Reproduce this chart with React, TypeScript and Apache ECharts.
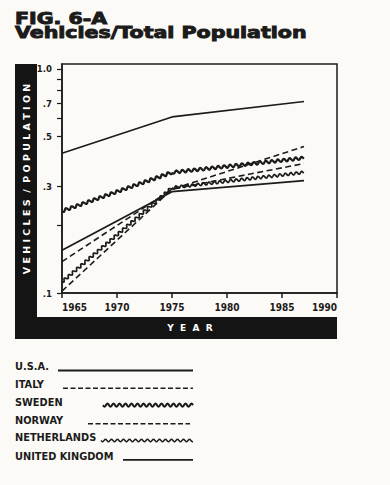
import React, { useEffect, useRef } from "react";
import * as echarts from "echarts";

const years = [1965, 1975, 1987];
const usa = [0.42, 0.61, 0.715];
const italy = [0.102, 0.29, 0.45];
const sweden = [0.232, 0.345, 0.4];
const norway = [0.138, 0.29, 0.378];
const netherlands = [0.112, 0.295, 0.345];
const uk = [0.155, 0.283, 0.317];

const yTickValues = [0.1, 0.2, 0.3, 0.5, 0.6, 0.7, 0.8, 0.9, 1.0];
const yLabelValues = [0.1, 0.3, 0.5, 0.7, 1.0];
const legendNames = ["U.S.A.", "ITALY", "SWEDEN", "NORWAY", "NETHERLANDS", "UNITED KINGDOM"];

const INK = "#1b1b1b";
const BG = "#fbfaf6";

function pairs(vals: number[]) {
  return years.map((y, i) => [y, vals[i]]);
}

function wavePoints(x0: number, y0: number, x1: number, y1: number, amp: number, wl: number) {
  const dx = x1 - x0, dy = y1 - y0;
  const L = Math.sqrt(dx * dx + dy * dy);
  const ux = dx / L, uy = dy / L;
  const nx = -uy, ny = ux;
  const pts: number[][] = [];
  const step = 0.5;
  for (let s = 0; s <= L; s += step) {
    const o = amp * Math.sin((2 * Math.PI * s) / wl);
    pts.push([x0 + ux * s + nx * o, y0 + uy * s + ny * o]);
  }
  return pts;
}

function wavySeries(name: string, vals: number[], width: number, amp: number, wl: number) {
  return {
    type: "custom",
    name,
    data: pairs(vals),
    encode: { x: 0, y: 1 },
    clip: true,
    renderItem: (params: any, api: any) => {
      const i = params.dataIndexInside;
      if (i === 0) return { type: "group", children: [] };
      const p0 = api.coord([api.value(0, i - 1), api.value(1, i - 1)]);
      const p1 = api.coord([api.value(0, i), api.value(1, i)]);
      return {
        type: "polyline",
        shape: { points: wavePoints(p0[0], p0[1], p1[0], p1[1], amp, wl) },
        style: { stroke: INK, lineWidth: width, fill: null },
      };
    },
  };
}

function lineSeries(name: string, vals: number[], width: number, type: any) {
  return {
    type: "line",
    name,
    data: pairs(vals),
    symbol: "none",
    lineStyle: { color: INK, width, type },
  };
}

export default function App() {
  const ref = useRef<HTMLDivElement>(null);
  useEffect(() => {
    if (!ref.current) return;
    const chart = echarts.init(ref.current, null, { renderer: "svg" });

    const rowY = [366.7, 384.5, 402.3, 420, 437.7, 456];
    const lineStart = [58, 63, 103, 88, 101, 123];
    const lineEnd = [193, 193, 193, 190, 193, 193];
    const legendGraphics: any[] = [];
    legendNames.forEach((n, i) => {
      legendGraphics.push({
        type: "text",
        x: 15,
        y: rowY[i],
        style: {
          text: n,
          font: "bold 9.8px 'DejaVu Sans'",
          fill: INK,
          align: "left",
          verticalAlign: "middle",
          textAlign: "left",
          textVerticalAlign: "middle",
        },
      });
      const ly = rowY[i] + 3.8;
      if (i === 0 || i === 5) {
        legendGraphics.push({
          type: "line",
          shape: { x1: lineStart[i], y1: ly, x2: lineEnd[i], y2: ly },
          style: { stroke: INK, lineWidth: 1.8 },
        });
      } else if (i === 1 || i === 3) {
        legendGraphics.push({
          type: "line",
          shape: { x1: lineStart[i], y1: ly, x2: lineEnd[i], y2: ly },
          style: { stroke: INK, lineWidth: 1.6, lineDash: [5, 2.5] },
        });
      } else {
        legendGraphics.push({
          type: "polyline",
          shape: { points: wavePoints(lineStart[i], ly - 1, lineEnd[i], ly - 1, i === 2 ? 1.5 : 1.2, 6) },
          style: { stroke: INK, lineWidth: i === 2 ? 2 : 1.5, fill: null },
        });
      }
    });

    const titleStyle = {
      font: "bold 15px 'DejaVu Sans'",
      fill: INK,
      stroke: INK,
      lineWidth: 0.9,
      align: "left",
      verticalAlign: "top",
      textAlign: "left",
      textVerticalAlign: "top",
    };

    const option: any = {
      animation: false,
      backgroundColor: BG,
      grid: {
        left: 62,
        right: 53,
        top: 64,
        bottom: 192,
        show: true,
        borderColor: INK,
        borderWidth: 1.5,
        backgroundColor: "transparent",
      },
      xAxis: {
        type: "value",
        min: 1965,
        max: 1990,
        interval: 5,
        axisLine: { show: true, lineStyle: { color: INK, width: 1.5 } },
        axisTick: { show: true, inside: false, length: 5, lineStyle: { color: INK, width: 1.5 } },
        splitLine: { show: false },
        axisLabel: {
          color: INK,
          fontWeight: "bold",
          fontSize: 10,
          fontFamily: "'Liberation Sans Narrow', 'DejaVu Sans Condensed', sans-serif",
          margin: 9,
          alignMinLabel: "left",
          alignMaxLabel: "right",
          formatter: (v: number) => String(Math.round(v)),
        },
      },
      yAxis: {
        type: "log",
        logBase: 10,
        min: 0.1,
        max: 1.05,
        axisLine: { show: true, lineStyle: { color: INK, width: 1.5 } },
        axisTick: { show: true, length: 5, customValues: yTickValues, lineStyle: { color: INK, width: 1.2 } },
        splitLine: { show: false },
        minorTick: { show: false },
        axisLabel: {
          customValues: yLabelValues,
          color: INK,
          fontWeight: "bold",
          fontSize: 9.5,
          fontFamily: "'Liberation Sans Narrow', 'DejaVu Sans Condensed', sans-serif",
          margin: 10,
          formatter: (v: number) => (Math.abs(v - 1) < 1e-6 ? "1.0" : "." + Math.round(v * 10)),
        },
      },
      series: [
        lineSeries("U.S.A.", usa, 1.6, "solid"),
        lineSeries("ITALY", italy, 1.6, [6, 3.5]),
        wavySeries("SWEDEN", sweden, 2.2, 1.4, 6),
        lineSeries("NORWAY", norway, 1.6, [6, 3.5]),
        wavySeries("NETHERLANDS", netherlands, 1.7, 1.3, 5.5),
        lineSeries("UNITED KINGDOM", uk, 1.8, "solid"),
      ],
      graphic: [
        {
          type: "text",
          x: 15,
          y: 11,
          scaleX: 1.37,
          style: { ...titleStyle, text: "FIG. 6-A" },
        },
        {
          type: "text",
          x: 15,
          y: 25,
          scaleX: 1.37,
          style: { ...titleStyle, text: "Vehicles/Total Population" },
        },
        {
          type: "rect",
          shape: { x: 15, y: 64, width: 22, height: 275 },
          style: { fill: "#141414" },
        },
        {
          type: "rect",
          shape: { x: 15, y: 317, width: 322, height: 22 },
          style: { fill: "#141414" },
        },
        {
          type: "text",
          x: 190,
          y: 328,
          style: {
            text: "Y  E  A  R",
            font: "bold 9px 'DejaVu Sans'",
            fill: "#ffffff",
            align: "center",
            verticalAlign: "middle",
            textAlign: "center",
            textVerticalAlign: "middle",
          },
        },
        {
          type: "text",
          x: 26.5,
          y: 179,
          rotation: Math.PI / 2,
          style: {
            text: "V E H I C L E S  /  P O P U L A T I O N",
            font: "bold 9.5px 'DejaVu Sans'",
            fill: "#ffffff",
            align: "center",
            verticalAlign: "middle",
            textAlign: "center",
            textVerticalAlign: "middle",
          },
        },
        ...legendGraphics,
      ],
    };
    chart.setOption(option);
    return () => chart.dispose();
  }, []);

  return (
    <div
      ref={ref}
      style={{ position: "absolute", left: 0, top: 0, width: 390, height: 485 }}
    />
  );
}
